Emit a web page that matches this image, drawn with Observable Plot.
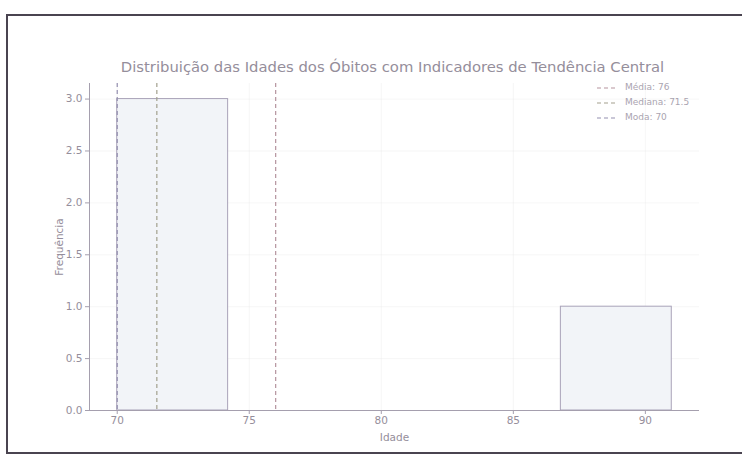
<!DOCTYPE html>
<html>
<head>
<meta charset="utf-8">
<script src="https://cdn.jsdelivr.net/npm/d3@7"></script>
<script src="https://cdn.jsdelivr.net/npm/@observablehq/plot@0.6"></script>
<style>
  html, body { margin: 0; padding: 0; background: #fff; }
  #wrap { position: relative; width: 745px; height: 458px; overflow: hidden; font-family: "DejaVu Sans", sans-serif; }
  #border { position: absolute; left: 6px; top: 14px; width: 736px; height: 440px; border: 2px solid #4a4450; box-sizing: border-box; border-right: none; }
  #title { position: absolute; left: 0; width: 785px; top: 58px; text-align: center; font-size: 14.8px; color: #958e9b; }
  #chart { position: absolute; left: 0; top: 0; }
  #legend { position: absolute; left: 597px; top: 80px; font-size: 9px; color: #aaa4b0; line-height: 15px; }
  #legend div { display: flex; align-items: center; }
  #legend svg { margin-right: 7px; }
</style>
</head>
<body>
<div id="wrap">
  <div id="border"></div>
  <div id="chart"></div>
  <div id="title">Distribuição das Idades dos Óbitos com Indicadores de Tendência Central</div>
  <div id="legend"></div>
</div>
<script>
// Histogram bins
const binStart = [70, 74.2, 78.4, 82.6, 86.8];
const binEnd   = [74.2, 78.4, 82.6, 86.8, 91];
const counts   = [3, 0, 0, 0, 1];

// Central tendency indicators
const statNames  = ["Média", "Mediana", "Moda"];
const statValues = [76, 71.5, 70];
const statLabels = ["Média: 76", "Mediana: 71.5", "Moda: 70"];
const statColors = ["#b5949e", "#a3a08e", "#948fb0"];

const xTicks = [70, 75, 80, 85, 90];
const yTicks = [0, 0.5, 1, 1.5, 2, 2.5, 3];

const bins = binStart.map((s, i) => ({x1: s, x2: binEnd[i], y: counts[i]}));
const stats = statNames.map((n, i) => ({name: n, value: statValues[i], color: statColors[i], label: statLabels[i]}));

const chart = Plot.plot({
  width: 745,
  height: 458,
  marginLeft: 89,
  marginRight: 46,
  marginTop: 83,
  marginBottom: 48,
  style: {fontFamily: "DejaVu Sans, sans-serif", fontSize: "10.5px", color: "#958e9b", background: "transparent"},
  x: {domain: [68.95, 92.05]},
  y: {domain: [0, 3.15]},
  marks: [
    Plot.gridY(yTicks, {stroke: "#e4e4e4", strokeOpacity: 0.35}),
    Plot.gridX(xTicks, {stroke: "#e4e4e4", strokeOpacity: 0.35}),
    Plot.rect(bins.filter(d => d.y > 0), {x1: "x1", x2: "x2", y1: 0, y2: "y", fill: "#f2f4f8", stroke: "#a9a2b8", strokeWidth: 1}),
    Plot.ruleX(stats, {x: "value", stroke: "color", strokeWidth: 1.2, strokeDasharray: "4,3"}),
    Plot.axisX(xTicks, {tickSize: 4, tickPadding: 2, stroke: "#a59fae", fill: "#958e9b", label: "Idade", labelAnchor: "center", labelOffset: 30, labelArrow: "none"}),
    Plot.axisY(yTicks, {tickSize: 4, tickPadding: 3, tickFormat: d3.format(".1f"), stroke: "#a59fae", fill: "#958e9b", label: "Frequência", labelAnchor: "center", labelOffset: 34, labelArrow: "none"}),
    Plot.ruleY([0], {stroke: "#a59fae"}),
    Plot.ruleX([68.95], {stroke: "#a59fae"})
  ]
});
document.getElementById("chart").appendChild(chart);

const legend = document.getElementById("legend");
stats.forEach(s => {
  const row = document.createElement("div");
  row.innerHTML = `<svg width="21" height="6"><line x1="0" y1="3" x2="21" y2="3" stroke="${s.color}" stroke-width="1.2" stroke-dasharray="4,3"/></svg><span>${s.label}</span>`;
  legend.appendChild(row);
});
</script>
</body>
</html>
